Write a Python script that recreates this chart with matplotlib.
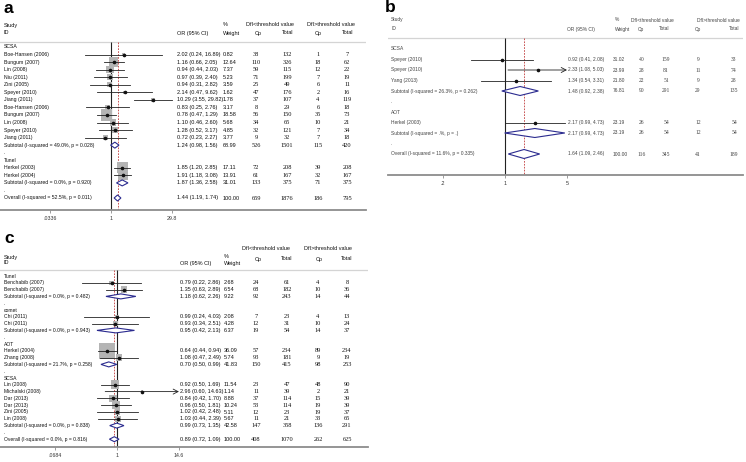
import numpy as np
import matplotlib
matplotlib.use("Agg")
import matplotlib.pyplot as plt
import matplotlib.transforms as mtransforms
from matplotlib.ticker import NullLocator

plt.rcParams['font.family'] = ['Liberation Sans', 'DejaVu Sans']

W, H = 746, 462

# ---------------- panel a ----------------
a_kind = ["g"] + ["s"] * 12 + ["t", "b", "g", "s", "s", "t", "b", "o"]
a_label = ["SCSA", "Boe-Hansen (2006)", "Bungum (2007)", "Lin (2008)", "Niu (2011)",
           "Zini (2005)", "Speyer (2010)", "Jiang (2011)", "Boe-Hansen (2006)",
           "Bungum (2007)", "Lin (2008)", "Speyer (2010)", "Jiang (2011)",
           "Subtotal (I-squared = 49.0%, p = 0.028)", ".", "Tunel", "Herkel (2003)",
           "Herkel (2004)", "Subtotal (I-squared = 0.0%, p = 0.920)", ".",
           "Overall (I-squared = 52.5%, p = 0.011)"]
a_or = [None, 2.02, 1.16, 0.94, 0.97, 0.94, 2.14, 10.29, 0.83, 0.78, 1.10, 1.28, 0.72,
        1.24, None, None, 1.85, 1.91, 1.87, None, 1.44]
a_lo = [None, 0.24, 0.66, 0.44, 0.39, 0.31, 0.47, 3.55, 0.25, 0.47, 0.46, 0.52, 0.23,
        0.98, None, None, 1.20, 1.18, 1.36, None, 1.19]
a_hi = [None, 16.89, 2.05, 2.03, 2.40, 2.82, 9.62, 29.82, 2.76, 1.29, 2.60, 3.17, 2.27,
        1.56, None, None, 2.85, 3.08, 2.58, None, 1.74]
a_wt = [None, 0.82, 12.64, 7.37, 5.23, 3.59, 1.62, 1.78, 3.17, 18.58, 5.68, 4.85, 3.77,
        68.99, None, None, 17.11, 13.91, 31.01, None, 100.00]
a_cp1 = [None, 38, 110, 59, 71, 25, 47, 37, 8, 56, 34, 32, 9, 526, None, None, 72, 61, 133, None, 659]
a_tot1 = [None, 132, 326, 115, 199, 49, 176, 107, 29, 150, 65, 121, 32, 1501, None, None, 208, 167, 375, None, 1876]
a_cp2 = [None, 1, 18, 12, 7, 6, 2, 4, 6, 35, 10, 7, 7, 115, None, None, 39, 32, 71, None, 186]
a_tot2 = [None, 7, 62, 22, 19, 11, 16, 119, 18, 73, 21, 34, 18, 420, None, None, 208, 167, 375, None, 795]
a_ticks = [0.0336, 1, 29.8]
a_ticklabels = [".0336", "1", "29.8"]

# ---------------- panel b ----------------
b_kind = ["g", "s", "s", "s", "t", "b", "g", "s", "t", "b", "o"]
b_label = ["SCSA", "Speyer (2010)", "Speyer (2010)", "Yang (2013)",
           "Subtotal (I-squared = 26.3%, p = 0.262)", ".", "AOT", "Herkel (2003)",
           "Subtotal (I-squared = .%, p = .)", ".",
           "Overall (I-squared = 11.6%, p = 0.335)"]
b_or = [None, 0.92, 2.33, 1.34, 1.48, None, None, 2.17, 2.17, None, 1.64]
b_lo = [None, 0.41, 1.08, 0.54, 0.92, None, None, 0.99, 0.99, None, 1.09]
b_hi = [None, 2.08, 5.03, 3.31, 2.38, None, None, 4.73, 4.73, None, 2.46]
b_wt = [None, 31.02, 23.99, 21.80, 76.81, None, None, 23.19, 23.19, None, 100.00]
b_cp1 = [None, 40, 28, 22, 90, None, None, 26, 26, None, 116]
b_tot1 = [None, 159, 81, 51, 291, None, None, 54, 54, None, 345]
b_cp2 = [None, 9, 11, 9, 29, None, None, 12, 12, None, 41]
b_tot2 = [None, 33, 74, 28, 135, None, None, 54, 54, None, 189]
b_ticks = [0.2, 1, 5]
b_ticklabels = [".2", "1", "5"]

# ---------------- panel c ----------------
c_kind = ["g", "s", "s", "t", "b", "g", "s", "s", "t", "b", "g", "s", "s", "t", "b",
          "g", "s", "s", "s", "s", "s", "s", "t", "b", "o"]
c_label = ["Tunel", "Benchabib (2007)", "Benchabib (2007)",
           "Subtotal (I-squared = 0.0%, p = 0.482)", ".", "comet", "Chi (2011)", "Chi (2011)",
           "Subtotal (I-squared = 0.0%, p = 0.943)", ".", "AOT", "Herkel (2004)", "Zhang (2008)",
           "Subtotal (I-squared = 21.7%, p = 0.258)", ".", "SCSA", "Lin (2008)",
           "Michalski (2008)", "Dar (2013)", "Dar (2013)", "Zini (2005)", "Lin (2008)",
           "Subtotal (I-squared = 0.0%, p = 0.838)", ".",
           "Overall (I-squared = 0.0%, p = 0.816)"]
c_or = [None, 0.79, 1.35, 1.18, None, None, 0.99, 0.93, 0.95, None, None, 0.64, 1.08, 0.70,
        None, None, 0.92, 2.96, 0.84, 0.96, 1.02, 1.03, 0.99, None, 0.89]
c_lo = [None, 0.22, 0.63, 0.62, None, None, 0.24, 0.34, 0.42, None, None, 0.44, 0.47, 0.50,
        None, None, 0.50, 0.60, 0.42, 0.50, 0.42, 0.44, 0.73, None, 0.72]
c_hi = [None, 2.86, 2.89, 2.26, None, None, 4.03, 2.51, 2.13, None, None, 0.94, 2.49, 0.99,
        None, None, 1.69, 14.63, 1.70, 1.81, 2.48, 2.39, 1.35, None, 1.09]
c_wt = [None, 2.68, 6.54, 9.22, None, None, 2.08, 4.28, 6.37, None, None, 36.09, 5.74, 41.83,
        None, None, 11.54, 1.14, 8.88, 10.24, 5.11, 5.67, 42.58, None, 100.00]
c_cp1 = [None, 24, 68, 92, None, None, 7, 12, 19, None, None, 57, 93, 150,
         None, None, 23, 11, 37, 53, 12, 11, 147, None, 408]
c_tot1 = [None, 61, 182, 243, None, None, 23, 31, 54, None, None, 234, 181, 415,
          None, None, 47, 39, 114, 114, 23, 21, 358, None, 1070]
c_cp2 = [None, 4, 10, 14, None, None, 4, 10, 14, None, None, 89, 9, 98,
         None, None, 48, 2, 15, 19, 19, 33, 136, None, 262]
c_tot2 = [None, 8, 36, 44, None, None, 13, 24, 37, None, None, 234, 19, 253,
          None, None, 90, 21, 39, 39, 37, 65, 291, None, 625]
c_ticks = [0.0684, 1, 14.6]
c_ticklabels = [".0684", "1", "14.6"]


def fig_text(fig, px, py, s, **kw):
    fig.text(px / W, 1 - py / H, s, **kw)


def draw_panel(fig, box, center_px, scale_px, row0_px, row_px, hdr_px, data, ticks, ticklabels,
               cols, fs, color, box_k, dia_h, label_fs=None):
    kind, label, orv, lo, hi, wt, cp1, tot1, cp2, tot2 = data
    label_fs = label_fs or fs
    left, top, right, bottom = box
    ax = fig.add_axes([left / W, 1 - bottom / H, (right - left) / W, (bottom - top) / H])
    ax.set_xscale('log')
    ax.set_xlim(np.exp((left - center_px) / scale_px), np.exp((right - center_px) / scale_px))

    def to_row(py):
        return (py - row0_px) / row_px

    ax.set_ylim(to_row(bottom), to_row(top))
    ax.patch.set_alpha(0)
    for s in ['left', 'right', 'top']:
        ax.spines[s].set_visible(False)
    ax.spines['bottom'].set_color('#8c8c8c')
    ax.spines['bottom'].set_linewidth(1.3)
    ax.set_yticks([])
    ax.set_xticks(ticks)
    ax.set_xticklabels(ticklabels)
    ax.xaxis.set_minor_locator(NullLocator())
    ax.tick_params(axis='x', length=2.5, width=0.6, color='#8c8c8c', labelsize=3.8,
                   pad=2, labelcolor='#333333')

    hdr_row = to_row(hdr_px)
    ax.axhline(hdr_row, color='#d4d4d4', lw=0.9)
    ax.vlines(1, hdr_row, to_row(bottom), color='#222222', lw=0.8)
    overall = orv[kind.index("o")]
    ax.vlines(overall, hdr_row, to_row(bottom), color='#c03a3a', lw=0.6,
              linestyles=(0, (2.0, 1.5)))

    trans = mtransforms.blended_transform_factory(fig.transFigure, ax.transData)
    xmax_tick = ticks[-1]
    for r, k in enumerate(kind):
        ax.text(cols['label'] / W, r, label[r], transform=trans, fontsize=label_fs, color=color,
                ha='left', va='center')
        if orv[r] is None:
            continue
        ax.text(cols['or'] / W, r, "%.2f (%.2f, %.2f)" % (orv[r], lo[r], hi[r]), transform=trans,
                fontsize=fs, color=color, ha='left', va='center')
        ax.text(cols['wt'] / W, r, "%.2f" % wt[r], transform=trans, fontsize=fs, color=color,
                ha='left', va='center')
        for key, vals in (('cp1', cp1), ('tot1', tot1), ('cp2', cp2), ('tot2', tot2)):
            ax.text(cols[key] / W, r, str(vals[r]), transform=trans, fontsize=fs + 0.6,
                    color=color, ha='center', va='center', family='Liberation Serif')
        if k == "s":
            if box_k > 0:
                side_pt = box_k * np.sqrt(wt[r]) * 0.72
                ax.scatter([orv[r]], [r], s=side_pt ** 2, marker='s', color='#b4b4b4',
                           edgecolors='none', zorder=2)
            if hi[r] > xmax_tick * 1.001:
                ax.annotate('', xy=(xmax_tick, r), xytext=(lo[r], r),
                            arrowprops=dict(arrowstyle='->,head_length=0.35,head_width=0.18',
                                            lw=0.6, color='#222222', shrinkA=0, shrinkB=0),
                            zorder=3)
            else:
                ax.plot([lo[r], hi[r]], [r, r], color='#222222', lw=0.6, zorder=3)
            ax.plot([orv[r]], [r], marker='o', ms=1.6, color='#111111', zorder=4)
        else:
            h = dia_h / row_px
            ax.fill([lo[r], orv[r], hi[r], orv[r]], [r, r - h, r, r + h], facecolor='white',
                    edgecolor='#2b2b8f', lw=0.8, zorder=3)
    return ax


fig = plt.figure(figsize=(W / 100, H / 100), dpi=100)
fig.patch.set_facecolor('white')

# panel a
draw_panel(fig, (0, 0, 366, 210), 111, 17.9, 47, 7.55, 42,
           (a_kind, a_label, a_or, a_lo, a_hi, a_wt, a_cp1, a_tot1, a_cp2, a_tot2),
           a_ticks, a_ticklabels,
           {'label': 4, 'or': 177, 'wt': 223, 'cp1': 256, 'tot1': 287, 'cp2': 318, 'tot2': 347},
           4.0, '#111111', 2.66, 3.0, label_fs=3.7)
fig_text(fig, 4, 1, "a", fontsize=12.5, fontweight='bold', va='top')
for px, py, s, ha in [(4, 25, "Study", 'left'), (4, 33, "ID", 'left'),
                      (177, 33, "OR (95% CI)", 'left'), (223, 25, "%", 'left'),
                      (223, 33, "Weight", 'left'), (270, 25, "DfI<threshold value", 'center'),
                      (258, 33, "Cp", 'center'), (288, 33, "Total", 'center'),
                      (331, 25, "DfI>threshold value", 'center'), (318, 33, "Cp", 'center'),
                      (348, 33, "Total", 'center')]:
    fig_text(fig, px, py, s, fontsize=4.0, color='#111111', ha=ha, va='center')

# panel b
draw_panel(fig, (388, 0, 743, 175), 505, 38.5, 49, 10.5, 38,
           (b_kind, b_label, b_or, b_lo, b_hi, b_wt, b_cp1, b_tot1, b_cp2, b_tot2),
           b_ticks, b_ticklabels,
           {'label': 391, 'or': 568, 'wt': 613, 'cp1': 642, 'tot1': 666, 'cp2': 698, 'tot2': 734},
           3.5, '#444444', 0, 4.5)
fig_text(fig, 385, 0, "b", fontsize=12.5, fontweight='bold', va='top')
for px, py, s, ha in [(391, 19.5, "Study", 'left'), (391, 29, "ID", 'left'),
                      (567, 29, "OR (95% CI)", 'left'), (615, 19.5, "%", 'left'),
                      (615, 29, "Weight", 'left'), (652, 20, "DfI<threshold value", 'center'),
                      (641, 29, "Cp", 'center'), (664, 29, "Total", 'center'),
                      (718, 20, "DfI>threshold value", 'center'), (698, 29, "Cp", 'center'),
                      (734, 29, "Total", 'center')]:
    fig_text(fig, px, py, s, fontsize=3.5, color='#444444', ha=ha, va='center')

# panel c
draw_panel(fig, (0, 230, 368, 447), 117, 23.1, 276, 6.8, 270,
           (c_kind, c_label, c_or, c_lo, c_hi, c_wt, c_cp1, c_tot1, c_cp2, c_tot2),
           c_ticks, c_ticklabels,
           {'label': 4, 'or': 180, 'wt': 224, 'cp1': 256, 'tot1': 287, 'cp2': 318, 'tot2': 347},
           4.0, '#111111', 2.6, 2.5, label_fs=3.6)
fig_text(fig, 4, 231, "c", fontsize=12.5, fontweight='bold', va='top')
for px, py, s, ha in [(4, 257, "Study", 'left'), (4, 263, "ID", 'left'),
                      (180, 263, "OR (95% CI)", 'left'), (224, 257, "%", 'left'),
                      (224, 263, "Weight", 'left'), (266, 249, "DfI<threshold value", 'center'),
                      (258, 259, "Cp", 'center'), (287, 259, "Total", 'center'),
                      (328, 249, "DfI>threshold value", 'center'), (319, 259, "Cp", 'center'),
                      (347, 259, "Total", 'center')]:
    fig_text(fig, px, py, s, fontsize=4.0, color='#111111', ha=ha, va='center')

fig.savefig("out.png", dpi=100, facecolor='white')
